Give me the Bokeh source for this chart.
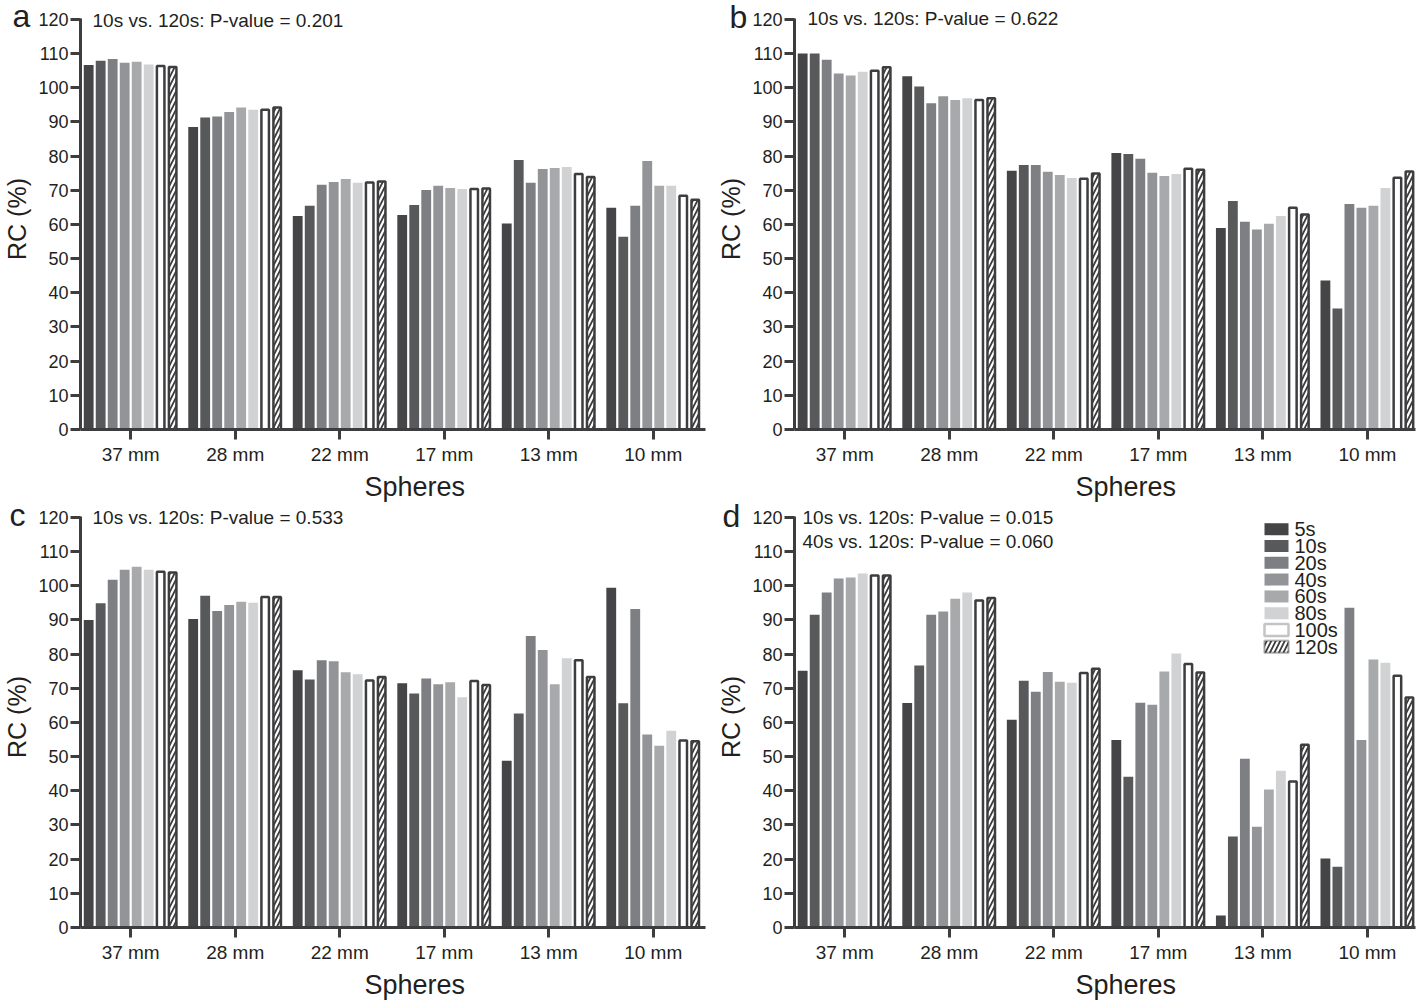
from bokeh.plotting import figure
from bokeh.models import Range1d, FixedTicker, Label, BoxAnnotation, ColumnDataSource, Title
from bokeh.layouts import column, row
from bokeh.embed import file_html
from bokeh.resources import INLINE

# ---------------- data ----------------
SPHERES = ["37 mm", "28 mm", "22 mm", "17 mm", "13 mm", "10 mm"]
TIMES = ["5s", "10s", "20s", "40s", "60s", "80s", "100s", "120s"]
Y_TICKS = [0, 10, 20, 30, 40, 50, 60, 70, 80, 90, 100, 110, 120]

# panel a
a_5s = [106.7, 88.5, 62.5, 62.8, 60.3, 64.9]
a_10s = [107.9, 91.3, 65.5, 65.7, 78.9, 56.4]
a_20s = [108.4, 91.6, 71.6, 70.1, 72.2, 65.5]
a_40s = [107.3, 92.9, 72.4, 71.3, 76.2, 78.6]
a_60s = [107.6, 94.2, 73.3, 70.7, 76.5, 71.3]
a_80s = [106.8, 93.6, 72.2, 70.4, 76.8, 71.3]
a_100s = [106.4, 93.6, 72.3, 70.4, 74.8, 68.4]
a_120s = [106.1, 94.2, 72.6, 70.5, 73.9, 67.2]

# panel b
b_5s = [110.0, 103.4, 75.7, 80.9, 59.0, 43.6]
b_10s = [110.0, 100.4, 77.4, 80.6, 66.9, 35.4]
b_20s = [108.2, 95.5, 77.4, 79.2, 60.8, 66.0]
b_40s = [104.2, 97.5, 75.4, 75.1, 58.5, 64.9]
b_60s = [103.6, 96.4, 74.5, 74.2, 60.2, 65.5]
b_80s = [104.7, 96.9, 73.6, 74.8, 62.5, 70.7]
b_100s = [105.0, 96.4, 73.4, 76.3, 64.9, 73.7]
b_120s = [106.0, 96.9, 74.9, 76.0, 62.9, 75.5]

# panel c
c_5s = [90.0, 90.3, 75.3, 71.5, 48.8, 99.4]
c_10s = [94.9, 97.1, 72.6, 68.5, 62.6, 65.6]
c_20s = [101.8, 92.6, 78.2, 72.9, 85.3, 93.2]
c_40s = [104.7, 94.4, 77.9, 71.2, 81.2, 56.5]
c_60s = [105.6, 95.3, 74.7, 71.8, 71.2, 53.2]
c_80s = [104.7, 95.0, 74.1, 67.4, 78.8, 57.6]
c_100s = [104.1, 96.7, 72.3, 72.1, 78.2, 54.7]
c_120s = [103.9, 96.7, 73.3, 71.0, 73.3, 54.5]

# panel d
d_5s = [75.1, 65.7, 60.8, 54.9, 3.5, 20.2]
d_10s = [91.5, 76.7, 72.2, 44.1, 26.6, 17.8]
d_20s = [98.0, 91.5, 69.0, 65.8, 49.4, 93.6]
d_40s = [102.1, 92.5, 74.8, 65.2, 29.5, 54.9]
d_60s = [102.4, 96.2, 71.9, 74.9, 40.4, 78.4]
d_80s = [103.6, 98.0, 71.6, 80.2, 45.9, 77.5]
d_100s = [103.0, 95.7, 74.5, 77.1, 42.7, 73.7]
d_120s = [103.0, 96.4, 75.7, 74.6, 53.5, 67.3]

P_TEXT_A = ["10s vs. 120s: P-value = 0.201"]
P_TEXT_B = ["10s vs. 120s: P-value = 0.622"]
P_TEXT_C = ["10s vs. 120s: P-value = 0.533"]
P_TEXT_D = ["10s vs. 120s: P-value = 0.015", "40s vs. 120s: P-value = 0.060"]

# ---------------- style ----------------
FONT = "Liberation Sans"
DARK = "#3d3d3f"
TEXT = "#231f20"
FILLS = ["#454547", "#58595b", "#7e7f83", "#939497", "#a8a9ab", "#d1d2d4"]
PITCH = 0.1148
BAR_W = 0.094
OUT_W = 0.072
FH = 421          # frame height in px
Y_END = 123.2     # frame top (room for the in-plot texts)
Y_AXIS_END = 120.3

BAR_STYLES = [dict(width=BAR_W, fill_color=c, line_color=None) for c in FILLS] + [
    dict(width=OUT_W, fill_color="white", line_color=DARK, line_width=2.5),
    dict(width=OUT_W, fill_color=DARK, line_color=DARK, line_width=2.5,
         hatch_pattern="/", hatch_color="white", hatch_scale=9, hatch_weight=2.2),
]


def make_panel(ptexts, ptext_pos, series, width, height, lb, rb, tb, bb,
               x_end, xlabel_offset, legend=False):
    p = figure(width=width, height=height, output_backend="svg",
               toolbar_location=None, tools="",
               x_range=Range1d(-0.48, x_end), y_range=Range1d(0, Y_END),
               min_border_left=lb, min_border_right=rb,
               min_border_top=tb, min_border_bottom=bb)
    p.grid.visible = False
    p.outline_line_color = None

    for j, vals in enumerate(series):
        xs = [i + (j - 3.5) * PITCH for i in range(len(SPHERES))]
        src = ColumnDataSource(dict(x=xs, top=vals))
        p.vbar(x="x", top="top", bottom=0, source=src, **BAR_STYLES[j])

    xa = p.xaxis[0]
    ya = p.yaxis[0]
    xa.ticker = FixedTicker(ticks=list(range(len(SPHERES))))
    xa.major_label_overrides = {i: s for i, s in enumerate(SPHERES)}
    ya.ticker = FixedTicker(ticks=Y_TICKS)
    ya.bounds = (0, Y_AXIS_END)
    ya.axis_label = "RC (%)"
    for ax in (xa, ya):
        ax.axis_line_width = 3
        ax.axis_line_color = DARK
        ax.major_tick_line_width = 3
        ax.major_tick_line_color = DARK
        ax.major_tick_out = 10
        ax.major_tick_in = 0
        ax.minor_tick_line_color = None
        ax.major_label_text_font = FONT
        ax.major_label_text_color = TEXT
        ax.axis_label_text_font = FONT
        ax.axis_label_text_font_style = "normal"
        ax.axis_label_text_color = TEXT
    xa.major_label_text_font_size = "19px"
    ya.major_label_text_font_size = "18px"
    ya.axis_label_text_font_size = "25px"
    xa.major_label_standoff = 4
    ya.major_label_standoff = 2
    ya.axis_label_standoff = 4

    # x-axis title (placed under the tick labels, slightly right of centre)
    p.add_layout(Title(text="Spheres", align="left", offset=xlabel_offset, standoff=4,
                       text_font=FONT, text_font_size="27px", text_font_style="normal",
                       text_color=TEXT), "below")

    for k, t in enumerate(ptexts):
        p.add_layout(Label(x=ptext_pos[0], y=FH - ptext_pos[1] - 24 * k,
                           x_units="screen", y_units="screen", text=t,
                           text_font=FONT, text_font_size="19px", text_color=TEXT,
                           text_baseline="middle", text_align="left"))

    if legend:
        lx, ly, row_h = 470, 16.7, 16.8
        for k, name in enumerate(TIMES):
            top = FH - ly - row_h * k
            st = BAR_STYLES[k]
            kw = dict(fill_color=st["fill_color"], fill_alpha=1.0,
                      line_color=st.get("line_color"), line_width=st.get("line_width", 1))
            if "hatch_pattern" in st:
                kw.update(hatch_pattern=st["hatch_pattern"], hatch_color=st["hatch_color"],
                          hatch_scale=st["hatch_scale"], hatch_weight=st["hatch_weight"])
            p.add_layout(BoxAnnotation(left=lx, right=lx + 24, top=top, bottom=top - 12,
                                       left_units="screen", right_units="screen",
                                       top_units="screen", bottom_units="screen", **kw))
            p.add_layout(Label(x=lx + 30, y=top - 6, x_units="screen", y_units="screen",
                               text=name, text_font=FONT, text_font_size="20px",
                               text_color=TEXT, text_baseline="middle", text_align="left"))
    return p


def letter_fig(letter, left, mid):
    w, h = 60, 60
    f = figure(width=w, height=h, output_backend="svg", toolbar_location=None, tools="",
               x_range=Range1d(0, w), y_range=Range1d(0, h),
               min_border_left=0, min_border_right=0, min_border_top=0, min_border_bottom=0,
               x_axis_type=None, y_axis_type=None,
               styles={"position": "absolute", "left": f"{left - 8}px",
                       "top": f"{mid - 30}px"})
    f.outline_line_color = None
    f.background_fill_alpha = 0
    f.border_fill_alpha = 0
    f.add_layout(Label(x=8, y=30, x_units="screen", y_units="screen", text=letter,
                       text_font=FONT, text_font_size="32px", text_color=TEXT,
                       text_baseline="middle", text_align="left"))
    return f


pa = make_panel(P_TEXT_A, (12, 11.5),
                [a_5s, a_10s, a_20s, a_40s, a_60s, a_80s, a_100s, a_120s],
                712, 506, 80, 7, 8, 77, 5.5, 284)
pb = make_panel(P_TEXT_B, (13, 10),
                [b_5s, b_10s, b_20s, b_40s, b_60s, b_80s, b_100s, b_120s],
                712, 506, 82, 9, 8, 77, 5.46, 281)
pc = make_panel(P_TEXT_C, (12, 10.5),
                [c_5s, c_10s, c_20s, c_40s, c_60s, c_80s, c_100s, c_120s],
                712, 497, 80, 7, 0, 76, 5.5, 284)
pd = make_panel(P_TEXT_D, (8, 11),
                [d_5s, d_10s, d_20s, d_40s, d_60s, d_80s, d_100s, d_120s],
                712, 497, 82, 9, 0, 76, 5.46, 281, legend=True)

la = letter_fig("a", 12, 15)
lb_ = letter_fig("b", 729, 16)
lc = letter_fig("c", 9, 514)
ld = letter_fig("d", 722, 515)

layout = column(row(pa, pb), row(pc, pd), la, lb_, lc, ld)
open("out.html", "w").write(file_html(layout, INLINE))
